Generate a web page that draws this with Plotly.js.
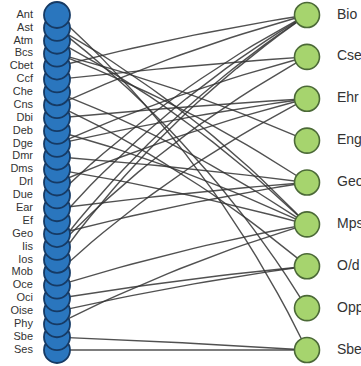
<!DOCTYPE html>
<html><head><meta charset="utf-8">
<script src="https://cdn.plot.ly/plotly-3.0.1.min.js"></script>
<style>html,body{margin:0;padding:0;background:#fff;}#chart{width:361px;height:366px;}</style>
</head><body><div id="chart"></div>
<script>
// Left-side nodes (top to bottom)
const leftNodes = ["Ant","Ast","Atm","Bcs","Cbet","Ccf","Che","Cns","Dbi","Deb","Dge","Dmr","Dms","Drl","Due","Ear","Ef","Geo","Iis","Ios","Mob","Oce","Oci","Oise","Phy","Sbe","Ses"];
// Right-side nodes (top to bottom)
const rightNodes = ["Bio","Cse","Ehr","Eng","Geo","Mps","O/d","Opp","Sbe"];
// Edges: source (left) and target (right)
const edgeSource = ["Ant","Ast","Ast","Atm","Bcs","Bcs","Cbet","Ccf","Che","Cns","Dbi","Deb","Dge","Dmr","Dms","Drl","Due","Ear","Ef","Geo","Iis","Iis","Ios","Mob","Oce","Oci","Oise","Phy","Sbe","Ses","Cns","Dge"];
const edgeTarget = ["Sbe","Mps","Opp","Mps","Eng","Geo","Bio","Cse","Mps","Bio","Ehr","Mps","Ehr","Geo","Mps","Ehr","Bio","Geo","Bio","Geo","Bio","Cse","Bio","Ehr","Mps","O/d","O/d","Mps","Sbe","Sbe","O/d","Cse"];

const nL = leftNodes.length;
const leftX = leftNodes.map(() => 0);
const leftY = leftNodes.map((_, i) => i);
const rightX = rightNodes.map(() => 1);
const rightY = rightNodes.map((_, i) => i * (nL - 1) / (rightNodes.length - 1));

// pixel scale factors (for curve geometry only)
const SX = 250, SY = 12.885;
const ex = [], ey = [];
for (let k = 0; k < edgeSource.length; k++) {
  const i = leftNodes.indexOf(edgeSource[k]);
  const j = rightNodes.indexOf(edgeTarget[k]);
  const x0 = leftX[i] * SX, y0 = leftY[i] * SY;
  const x1 = rightX[j] * SX, y1 = rightY[j] * SY;
  const dx = x1 - x0, dy = y1 - y0;
  const len = Math.hypot(dx, dy);
  const px = dy / len, py = -dx / len;
  const off = 0.12 * Math.abs(dy);
  const cx = (x0 + x1) / 2 + px * off, cy = (y0 + y1) / 2 + py * off;
  for (let t = 0; t <= 1.0001; t += 0.05) {
    const a = (1 - t) * (1 - t), b = 2 * (1 - t) * t, c = t * t;
    ex.push((a * x0 + b * cx + c * x1) / SX);
    ey.push((a * y0 + b * cy + c * y1) / SY);
  }
  ex.push(null); ey.push(null);
}

const revIdx = leftNodes.map((_, i) => nL - 1 - i);
const traces = [
  {x: ex, y: ey, mode: 'lines', type: 'scatter', hoverinfo: 'skip',
   line: {color: 'rgba(50,50,50,0.85)', width: 1.4}},
  {x: revIdx.map(i => leftX[i]), y: revIdx.map(i => leftY[i]), mode: 'markers', type: 'scatter',
   text: revIdx.map(i => leftNodes[i]), hoverinfo: 'text',
   marker: {size: 26, color: 'rgb(42,118,190)', line: {color: 'rgb(22,58,100)', width: 1.8}}},
  {x: rightX, y: rightY, mode: 'markers', type: 'scatter', text: rightNodes, hoverinfo: 'text',
   marker: {size: 25, color: 'rgb(166,212,110)', line: {color: 'rgb(75,105,55)', width: 1.6}}},
  {x: leftX.map(v => v - 0.096), y: leftY, mode: 'text', type: 'scatter', text: leftNodes,
   textposition: 'middle left', hoverinfo: 'skip',
   textfont: {family: 'Liberation Sans, Arial, sans-serif', size: 11, color: '#333'}},
  {x: rightX.map(v => v + 0.12), y: rightY, mode: 'text', type: 'scatter', text: rightNodes,
   textposition: 'middle right', hoverinfo: 'skip',
   textfont: {family: 'Liberation Sans, Arial, sans-serif', size: 14, color: '#333'}}
];
const layout = {
  width: 361, height: 366, margin: {l: 0, r: 0, t: 0, b: 0},
  paper_bgcolor: '#fff', plot_bgcolor: '#fff', showlegend: false,
  xaxis: {range: [-0.228, 1.216], visible: false, fixedrange: true},
  yaxis: {range: [27.242, -1.164], visible: false, fixedrange: true}
};
Plotly.newPlot('chart', traces, layout, {displayModeBar: false, staticPlot: true});
</script></body></html>
